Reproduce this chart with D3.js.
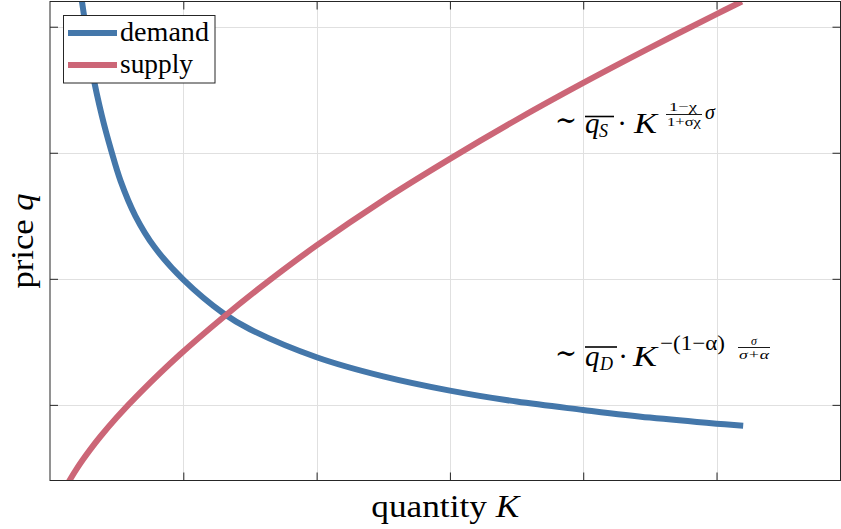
<!DOCTYPE html>
<html>
<head>
<meta charset="utf-8">
<script src="https://cdn.jsdelivr.net/npm/d3@7"></script>
<style>
  html, body { margin: 0; padding: 0; background: #fff; }
  svg { display: block; }
  text { font-family: "Liberation Serif", serif; fill: #000; }
</style>
</head>
<body>
<svg id="chart" width="841" height="529"></svg>
<script>
// ---- data ----
const seriesNames = ["demand", "supply"];
const seriesColors = ["#4477AA", "#CC6677"];
const demandK = [0.23, 0.265, 0.32, 0.39, 0.46, 0.53, 0.64, 0.785, 1.0, 1.3, 1.5, 2.0, 2.5, 3.0, 3.5, 4.0, 4.5, 5.0, 5.2];
const demandQ = [4.27, 4.02, 3.63, 3.29, 3.015, 2.775, 2.50, 2.25, 1.994, 1.727, 1.60, 1.378, 1.226, 1.113, 1.026, 0.96, 0.899, 0.851, 0.835];
const supplyK = [0.13, 0.1485, 0.2, 0.25, 0.3, 0.375, 0.5, 0.675, 0.975, 1.3, 1.6, 2.0, 2.5, 3.0, 3.5, 4.0, 4.5, 5.0, 5.19];
const supplyQ = [0.37, 0.404, 0.492, 0.570, 0.643, 0.745, 0.900, 1.095, 1.399, 1.695, 1.95, 2.265, 2.624, 2.952, 3.262, 3.554, 3.832, 4.10, 4.20];
const xTicks = [1, 2, 3, 4, 5];
const yTicks = [1, 2, 3, 4];
const xLabel = "quantity";
const xLabelVar = "K";
const yLabel = "price";
const yLabelVar = "q";

// ---- layout ----
const svg = d3.select("#chart");
const L = 50, R = 840.5, T = 1.5, B = 480.5;
const x = d3.scaleLinear().domain([0, 5.93]).range([L, R]);
const y = d3.scaleLinear().domain([0.4, 4.2]).range([B, T]);

// grid
const grid = svg.append("g").attr("stroke", "#e0e0e0").attr("stroke-width", 1);
xTicks.forEach(t => grid.append("line")
  .attr("x1", Math.round(x(t)) + 0.5).attr("x2", Math.round(x(t)) + 0.5)
  .attr("y1", T).attr("y2", B));
yTicks.forEach(t => grid.append("line")
  .attr("y1", Math.round(y(t)) + 0.5).attr("y2", Math.round(y(t)) + 0.5)
  .attr("x1", L).attr("x2", R));

// axes (no labels, inward ticks on all four sides)
const tickLen = 8;
const axB = d3.axisBottom(x).tickValues(xTicks).tickSize(-tickLen).tickFormat("");
const axT = d3.axisTop(x).tickValues(xTicks).tickSize(-tickLen).tickFormat("");
const axL = d3.axisLeft(y).tickValues(yTicks).tickSize(-tickLen).tickFormat("");
const axR = d3.axisRight(y).tickValues(yTicks).tickSize(-tickLen).tickFormat("");
function styleAxis(g) {
  g.selectAll(".domain").remove();
  g.selectAll("line").attr("stroke", "#262626");
}
svg.append("g").attr("transform", `translate(0,${B})`).call(axB).call(styleAxis);
svg.append("g").attr("transform", `translate(0,${T})`).call(axT).call(styleAxis);
svg.append("g").attr("transform", `translate(${L},0)`).call(axL).call(styleAxis);
svg.append("g").attr("transform", `translate(${R},0)`).call(axR).call(styleAxis);

// clip
svg.append("clipPath").attr("id", "plotclip").append("rect")
  .attr("x", L).attr("y", T).attr("width", R - L).attr("height", B - T);

const line = d3.line().x(d => x(d[0])).y(d => y(d[1])).curve(d3.curveCatmullRom.alpha(0.5));
const curves = svg.append("g").attr("clip-path", "url(#plotclip)");
curves.append("path").datum(demandK.map((k, i) => [k, demandQ[i]]))
  .attr("d", line).attr("fill", "none").attr("stroke", seriesColors[0]).attr("stroke-width", 6);
curves.append("path").datum(supplyK.map((k, i) => [k, supplyQ[i]]))
  .attr("d", line).attr("fill", "none").attr("stroke", seriesColors[1]).attr("stroke-width", 6);

// box
svg.append("rect").attr("x", L).attr("y", T).attr("width", R - L).attr("height", B - T)
  .attr("fill", "none").attr("stroke", "#262626").attr("stroke-width", 1);

// legend
const legendTextWidth = [89, 73];
const lg = svg.append("g");
lg.append("rect").attr("x", 63.5).attr("y", 15.5).attr("width", 151.5).attr("height", 67.5)
  .attr("fill", "#fff").attr("stroke", "#262626").attr("stroke-width", 1);
seriesNames.forEach((n, i) => {
  const yy = 33 + i * 32;
  lg.append("line").attr("x1", 68).attr("x2", 117).attr("y1", yy).attr("y2", yy)
    .attr("stroke", seriesColors[i]).attr("stroke-width", 6);
  lg.append("text").attr("x", 120).attr("y", yy + 8).attr("font-size", 27)
    .attr("textLength", legendTextWidth[i]).attr("lengthAdjust", "spacingAndGlyphs").text(n);
});

// axis labels
const xl = svg.append("text").attr("x", (L + R) / 2).attr("y", 517)
  .attr("text-anchor", "middle").attr("font-size", 31)
  .attr("textLength", 148).attr("lengthAdjust", "spacingAndGlyphs");
xl.append("tspan").text(xLabel + " ");
xl.append("tspan").attr("font-style", "italic").text(xLabelVar);
const yl = svg.append("text").attr("transform", `translate(33,${(T + B) / 2}) rotate(-90)`)
  .attr("text-anchor", "middle").attr("font-size", 31)
  .attr("textLength", 95).attr("lengthAdjust", "spacingAndGlyphs");
yl.append("tspan").text(yLabel + " ");
yl.append("tspan").attr("font-style", "italic").text(yLabelVar);

// formula annotations
function txt(xp, yp, s, size, italic, anchor, family, len) {
  const t = svg.append("text").attr("x", xp).attr("y", yp).attr("font-size", size)
    .attr("font-style", italic ? "italic" : "normal")
    .attr("text-anchor", anchor || "start").text(s);
  if (family) t.style("font-family", family);
  if (len) t.attr("textLength", len).attr("lengthAdjust", "spacingAndGlyphs");
  return t;
}
function bar(x1, x2, yp, w) {
  svg.append("line").attr("x1", x1).attr("x2", x2).attr("y1", yp).attr("y2", yp)
    .attr("stroke", "#000").attr("stroke-width", w || 1.3);
}
// supply: ~ q̄_S · K^{(1-χ)/(1+σχ) σ}
txt(555, 130, "\u223C", 30, false, "start", "DejaVu Serif", 22);
txt(585, 133, "q", 29, true);
txt(599, 137, "S", 18, true);
bar(585, 614, 116.5, 1.6);
txt(622, 133, "\u00B7", 29, false, "middle");
txt(634, 133, "K", 29, true, "start", null, 23);
txt(669, 111, "1\u2212\u03C7", 13.5, false, "start", null, 28);
bar(666, 702, 114.5, 0.9);
txt(667, 126, "1+\u03C3\u03C7", 13.5, false, "start", null, 34);
txt(705, 119, "\u03C3", 20, true);

// demand: ~ q̄_D · K^{-(1-α) σ/(σ+α)}
txt(555, 363, "\u223C", 30, false, "start", "DejaVu Serif", 22);
txt(585, 366, "q", 29, true);
txt(600, 370, "D", 18, true);
bar(585, 617, 347, 1.6);
txt(623, 366, "\u00B7", 29, false, "middle");
txt(633, 366, "K", 29, true, "start", null, 24);
txt(660, 350, "\u2212(1\u2212\u03B1)", 21, false, "start", null, 65);
txt(754, 344.5, "\u03C3", 12, true, "middle");
bar(738, 770, 347.5, 0.9);
txt(739, 358.5, "\u03C3+\u03B1", 12, true, "start", null, 30);
</script>
</body>
</html>
